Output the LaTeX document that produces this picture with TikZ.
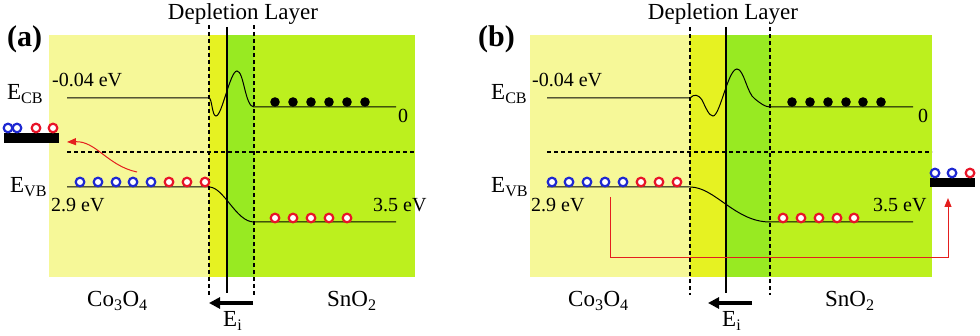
\documentclass[tikz,border=0pt]{standalone}
\usepackage{fontspec}
\setmainfont{Liberation Serif}
\usetikzlibrary{arrows.meta}

\definecolor{bgyel}{RGB}{246,248,152}
\definecolor{dlyel}{RGB}{230,242,34}
\definecolor{dlgrn}{RGB}{152,234,34}
\definecolor{bggrn}{RGB}{188,240,30}
\definecolor{hblue}{RGB}{30,40,210}
\definecolor{hred}{RGB}{232,20,40}
\definecolor{arred}{RGB}{228,30,30}

\begin{document}
\begin{tikzpicture}[x=1pt,y=-1pt,
  band/.style={line width=1pt},
  edge/.style={line width=1.1pt,dash pattern=on 4pt off 3pt},
  hole/.style={draw=#1,line width=2.2pt,fill=white},
  lbl/.style={font=\fontsize{23}{26}\selectfont,inner sep=0pt,anchor=base west},
  val/.style={font=\fontsize{20}{23}\selectfont,inner sep=0pt,anchor=base west},
  tag/.style={font=\fontsize{30}{34}\selectfont\bfseries,inner sep=0pt,anchor=base west},
  field/.style={line width=3.6pt,-{Triangle[length=11pt,width=11pt]}},
  hop/.style={arred,line width=1pt,-{Triangle[length=9pt,width=7pt]}},
  block/.style={fill=black,inner sep=0pt}]
  \useasboundingbox (0,0) rectangle (980,336);

  % ---- panel (a) ----
  \fill[bgyel] (49,35) rectangle (209,277);
  \fill[dlyel] (209,35) rectangle (227,277);
  \fill[dlgrn] (227,35) rectangle (254,277);
  \fill[bggrn] (254,35) rectangle (415,277);

  \draw[edge] (209,25) -- (209,295);
  \draw[edge] (254,25) -- (254,295);
  \draw[line width=1.3pt] (227,27) -- (227,293);
  \draw[edge] (67,152) -- (415,152);

  \draw[band] (67,98) -- (209,98)
    .. controls (212,98) and (212,116) .. (216,116)
    .. controls (222,116) and (230,71) .. (237,71)
    .. controls (244,71) and (245,107) .. (254,107) -- (396,107);
  \draw[band] (67,187) -- (209,187)
    .. controls (224,187) and (236,222) .. (254,222) -- (396,222);

  \foreach \x in {275,293,311,329,347,365}
    \fill[black] (\x,102) circle (4.8pt);
  \foreach \x in {80,98,116,133,151}
    \draw[hole=hblue] (\x,182) circle (4.3pt);
  \foreach \x in {169,187,205}
    \draw[hole=hred] (\x,182) circle (4.3pt);
  \foreach \x in {275,293,311,329,347}
    \draw[hole=hred] (\x,218) circle (4.3pt);

  \node[block,minimum width=55pt,minimum height=10pt] (blkA) at (31.5,138) {};
  \foreach \x/\c in {8/hblue,17/hblue,36/hred,53/hred}
    \draw[hole=\c] (\x,128) circle (4.3pt);

  \coordinate (hopA) at (137,172);
  \coordinate (hopEndA) at (67,142);
  \draw[hop] (hopA) .. controls (108,166) and (96,141) .. (hopEndA);

  \coordinate (eiA1) at (253,303);
  \coordinate (eiA0) at (209,303);
  \draw[field] (eiA1) -- (eiA0);

  \node[tag] (tagA) at (7,47) {(a)};
  \node[lbl,anchor=base] (dlA) at (243,20) {Depletion Layer};
  \node[lbl] (ecbA) at (7,100) {E\textsubscript{CB}};
  \node[lbl] (evbA) at (10,193) {E\textsubscript{VB}};
  \node[val] (cbvA) at (52,87) {-0.04 eV};
  \node[val] (vbvA) at (51,212) {2.9 eV};
  \node[val] (vbsA) at (373,212) {3.5 eV};
  \node[val] (cbsA) at (398,123) {0};
  \node[lbl] (coA) at (87,307) {Co\textsubscript{3}O\textsubscript{4}};
  \node[lbl] (snA) at (327,307) {SnO\textsubscript{2}};
  \node[lbl] (eiA) at (223,327) {E\textsubscript{i}};

  % ---- panel (b) ----
  \fill[bgyel] (530,35) rectangle (690,277);
  \fill[dlyel] (690,35) rectangle (726,277);
  \fill[dlgrn] (726,35) rectangle (770,277);
  \fill[bggrn] (770,35) rectangle (932,277);

  \draw[edge] (690,27) -- (690,295);
  \draw[edge] (770,27) -- (770,295);
  \draw[line width=1.3pt] (726,27) -- (726,293);
  \draw[edge] (547,152) -- (932,152);

  \draw[band] (547,98) -- (690,98)
    .. controls (694,94) and (698,94) .. (702,100)
    .. controls (706,108) and (709,116) .. (713,116)
    .. controls (720,116) and (728,69) .. (737,69)
    .. controls (744,69) and (747,94) .. (755,99)
    .. controls (760,103) and (765,107) .. (770,107) -- (913,107);
  \draw[band] (547,187) -- (690,187)
    .. controls (715,187) and (735,222) .. (770,222) -- (913,222);

  \foreach \x in {792,810,828,846,863,881}
    \fill[black] (\x,102) circle (4.8pt);
  \foreach \x in {552,569,587,605,623}
    \draw[hole=hblue] (\x,182) circle (4.3pt);
  \foreach \x in {641,659,677}
    \draw[hole=hred] (\x,182) circle (4.3pt);
  \foreach \x in {783,801,819,837,854}
    \draw[hole=hred] (\x,218) circle (4.3pt);

  \node[block,minimum width=45pt,minimum height=9pt] (blkB) at (952.5,182.5) {};
  \foreach \x/\c in {935/hblue,952/hblue,970/hred}
    \draw[hole=\c] (\x,173) circle (4.3pt);

  \coordinate (hopB) at (610,197);
  \coordinate (hopEndB) at (948,198);
  \draw[hop] (hopB) -- ++(0,61) -| (hopEndB);

  \coordinate (eiB1) at (752,303);
  \coordinate (eiB0) at (708,303);
  \draw[field] (eiB1) -- (eiB0);

  \node[tag] (tagB) at (478,47) {(b)};
  \node[lbl,anchor=base] (dlB) at (723,20) {Depletion Layer};
  \node[lbl] (ecbB) at (491,100) {E\textsubscript{CB}};
  \node[lbl] (evbB) at (491,193) {E\textsubscript{VB}};
  \node[val] (cbvB) at (532,87) {-0.04 eV};
  \node[val] (vbvB) at (531,212) {2.9 eV};
  \node[val] (vbsB) at (873,212) {3.5 eV};
  \node[val] (cbsB) at (918,123) {0};
  \node[lbl] (coB) at (568,307) {Co\textsubscript{3}O\textsubscript{4}};
  \node[lbl] (snB) at (825,307) {SnO\textsubscript{2}};
  \node[lbl] (eiB) at (722,327) {E\textsubscript{i}};
\end{tikzpicture}
\end{document}
